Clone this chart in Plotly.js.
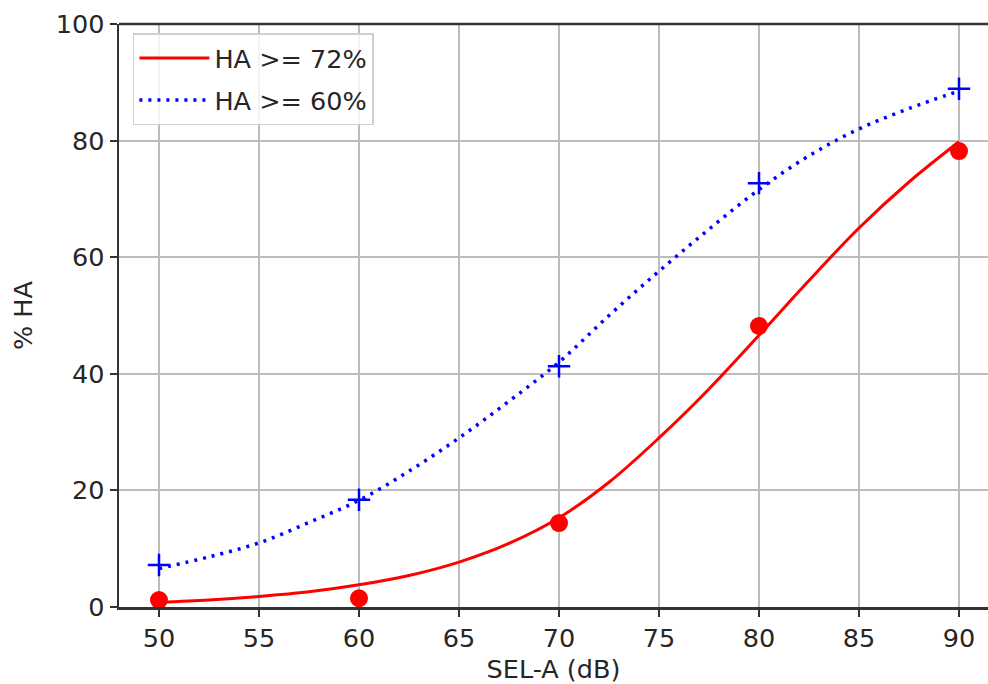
<!DOCTYPE html>
<html>
<head>
<meta charset="utf-8">
<script src="https://cdn.plot.ly/plotly-3.0.1.min.js"></script>
<style>html,body{margin:0;padding:0;background:#fff;overflow:hidden;}</style>
</head>
<body>
<div id="chart" style="width:988px;height:684px;"></div>
<script>
// Observed data points
const selPoints = [50, 60, 70, 80, 90];
const ha72Points = [1.2, 1.5, 14.4, 48.2, 78.2];
const ha60Points = [7.2, 18.4, 41.3, 72.7, 88.9];

// Fitted curves
const curveX = [50, 52.5, 55, 57.5, 60, 62.5, 65, 67.5, 70, 72.5, 75, 77.5, 80, 82.5, 85, 87.5, 90];
const ha72Curve = [0.8, 1.2, 1.8, 2.6, 3.8, 5.4, 7.7, 10.9, 15.3, 21.4, 29.0, 37.4, 46.6, 56.0, 65.0, 72.9, 79.8];
const ha60Curve = [6.6, 8.6, 11.0, 14.5, 18.3, 23.3, 29.0, 35.3, 42.0, 50.0, 57.6, 64.8, 71.6, 77.4, 82.0, 85.5, 88.5];

const seriesNames = ['HA >= 72%', 'HA >= 60%'];
const xTicks = [50, 55, 60, 65, 70, 75, 80, 85, 90];
const yTicks = [0, 20, 40, 60, 80, 100];

const font = 'DejaVu Sans, sans-serif';
const txt = '#262626';
const fs = 25.5;

const traces = [
  {x: curveX, y: ha72Curve, mode: 'lines', name: seriesNames[0], legendgroup: 'a',
   line: {color: '#ff0000', width: 3, shape: 'spline', smoothing: 1}},
  {x: curveX, y: ha60Curve, mode: 'lines', name: seriesNames[1], legendgroup: 'b',
   line: {color: '#0000ff', width: 3.5, dash: '3px,6px', shape: 'spline', smoothing: 1}},
  {x: selPoints, y: ha72Points, mode: 'markers', showlegend: false,
   marker: {color: '#ff0000', size: 18, symbol: 'circle'}},
  {x: selPoints, y: ha60Points, mode: 'markers', showlegend: false,
   marker: {color: '#0000ff', size: 16, symbol: 'cross-thin', line: {color: '#0000ff', width: 2.5}}}
];

const layout = {
  width: 988, height: 684,
  margin: {l: 119, r: 0, t: 24, b: 77, pad: 0},
  paper_bgcolor: '#fff', plot_bgcolor: '#fff',
  font: {family: font, size: fs, color: txt},
  showlegend: true,
  legend: {
    x: 0.016, y: 0.984, xanchor: 'left', yanchor: 'top',
    bgcolor: 'rgba(255,255,255,0.8)', bordercolor: '#d0d0d0', borderwidth: 1.5,
    font: {family: font, size: fs, color: txt},
    traceorder: 'grouped', tracegroupgap: 6, itemwidth: 70
  },
  xaxis: {
    range: [48, 91.45], tickvals: xTicks, ticktext: xTicks.map(String),
    showgrid: true, gridcolor: '#bcbcbc', gridwidth: 2,
    zeroline: false, showline: true, linecolor: '#333', linewidth: 2.5,
    ticks: 'outside', ticklen: 7, tickwidth: 2, tickcolor: '#333',
    tickfont: {family: font, size: fs, color: txt},
    title: {text: 'SEL-A (dB)', font: {family: font, size: fs, color: txt}, standoff: 10}
  },
  yaxis: {
    range: [0, 100], tickvals: yTicks, ticktext: yTicks.map(String),
    showgrid: true, gridcolor: '#bcbcbc', gridwidth: 2,
    zeroline: false, showline: true, linecolor: '#333', linewidth: 2.5,
    ticks: 'outside', ticklen: 7, tickwidth: 2, tickcolor: '#333',
    tickfont: {family: font, size: fs, color: txt},
    title: {text: '% HA', font: {family: font, size: fs, color: txt}, standoff: 16}
  },
  shapes: [
    {type: 'line', xref: 'paper', yref: 'paper', x0: 0, x1: 1, y0: 1, y1: 1,
     line: {color: '#333', width: 2.5}}
  ]
};

Plotly.newPlot('chart', traces, layout, {displayModeBar: false, staticPlot: true});
</script>
</body>
</html>
